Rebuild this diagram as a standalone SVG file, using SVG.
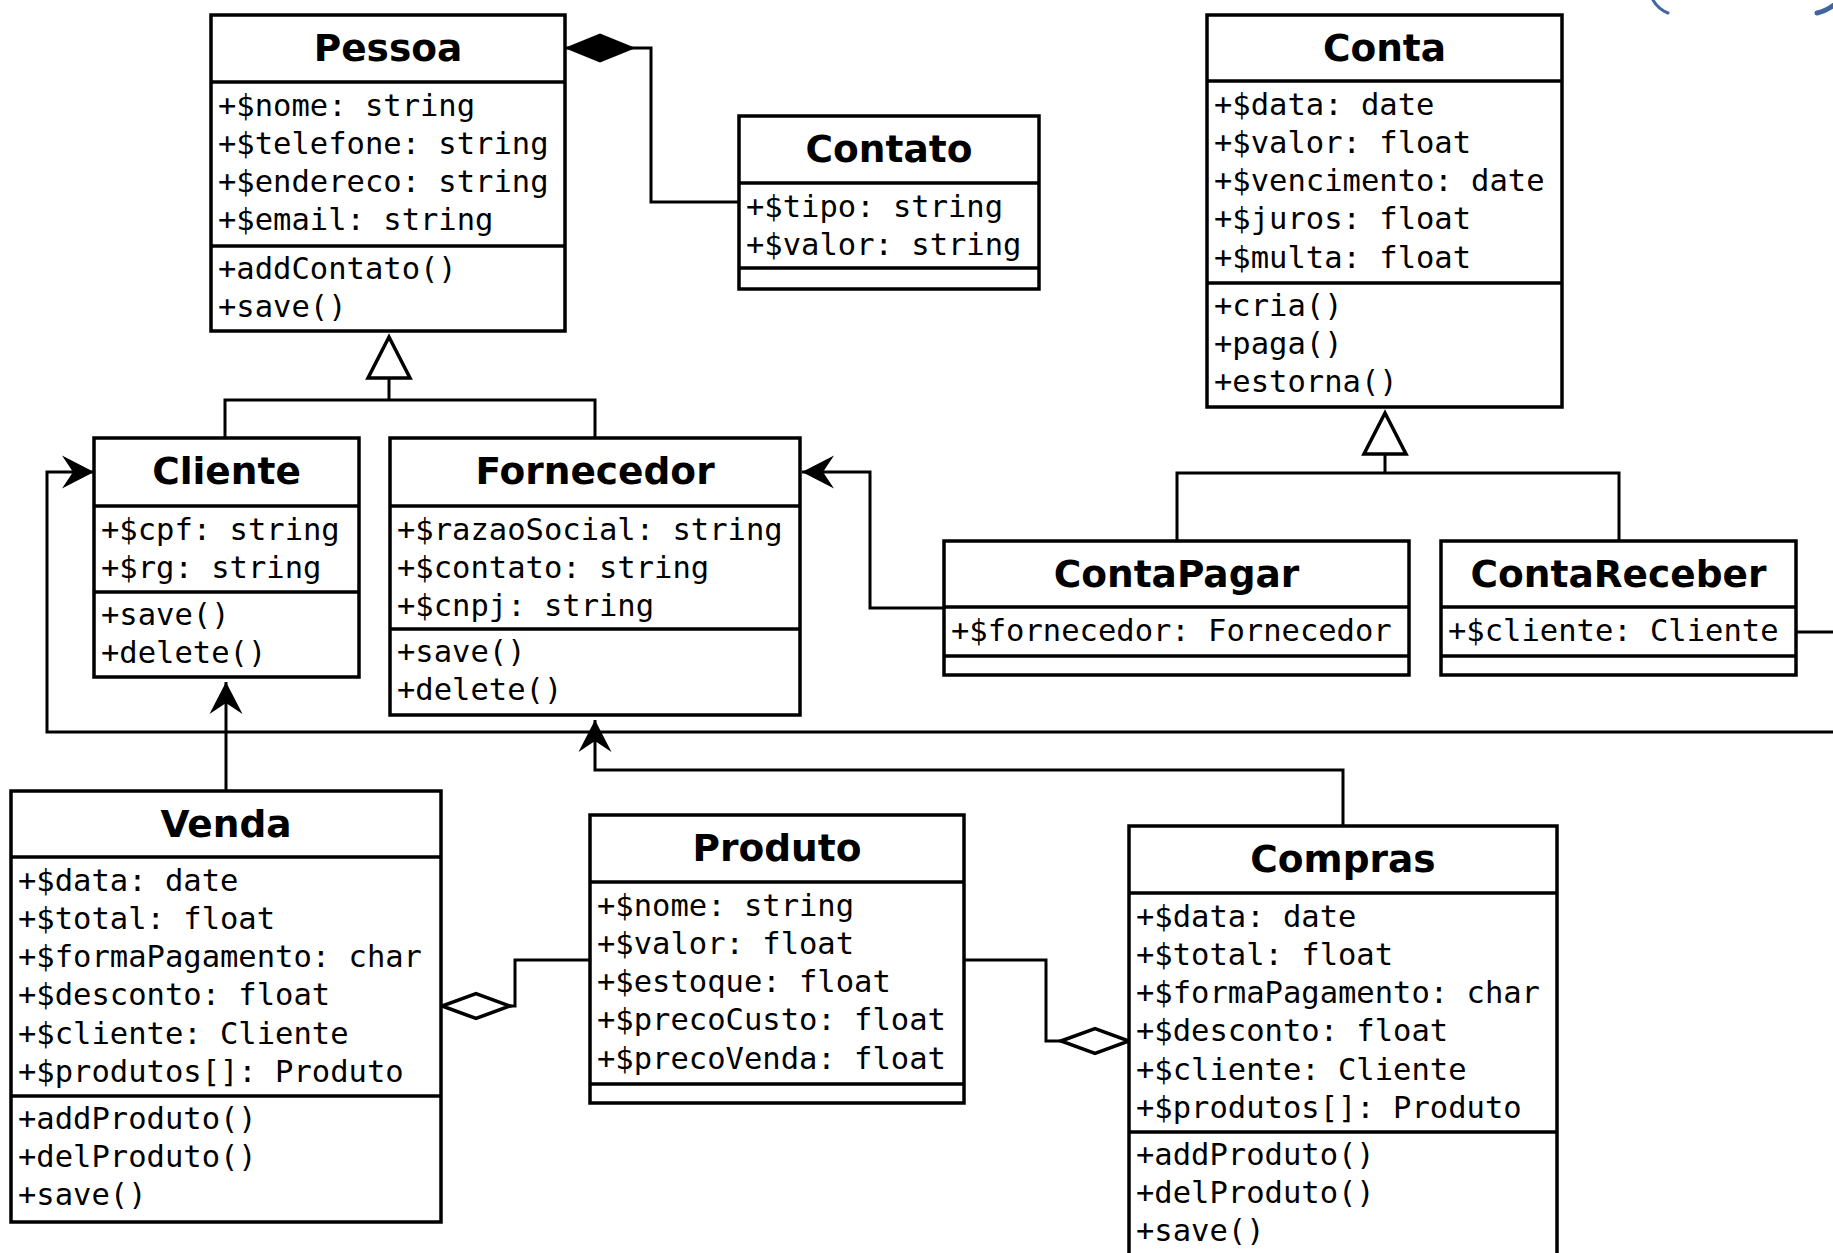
<svg xmlns="http://www.w3.org/2000/svg" width="1833" height="1253" viewBox="0 0 1833 1253">
  <style>
    .box { fill: #fff; stroke: #000; stroke-width: 3.5; }
    .div { stroke: #000; stroke-width: 3.5; }
    .title { font-family: "DejaVu Sans", "Liberation Sans", sans-serif; font-weight: bold; font-size: 37.5px; text-anchor: middle; fill: #000; }
    .m { font-family: "DejaVu Sans Mono", "Liberation Mono", monospace; font-size: 30.5px; fill: #000; }
    .edge { fill: none; stroke: #000; stroke-width: 3; }
    .logo { fill: none; stroke: #41659e; stroke-linecap: round; }
  </style>
  <defs>
    <!-- filled notched arrow for navigable associations -->
    <marker id="arrow" markerUnits="userSpaceOnUse" markerWidth="36" markerHeight="36" viewBox="0 0 36 36" refX="34" refY="18" orient="auto" overflow="visible">
      <path d="M34,18 L2,1.5 L13,18 L2,34.5 Z" fill="#000"/>
    </marker>
    <!-- hollow triangle for generalization -->
    <marker id="tri" markerUnits="userSpaceOnUse" markerWidth="46" markerHeight="46" viewBox="0 0 46 46" refX="44" refY="23" orient="auto" overflow="visible">
      <path d="M44,23 L3,2 L3,44 Z" fill="#fff" stroke="#000" stroke-width="3.5"/>
    </marker>
    <!-- hollow diamond for aggregation -->
    <marker id="dia" markerUnits="userSpaceOnUse" markerWidth="72" markerHeight="30" viewBox="0 0 72 30" refX="70" refY="15" orient="auto" overflow="visible">
      <path d="M2,15 L36,2.5 L70,15 L36,27.5 Z" fill="#fff" stroke="#000" stroke-width="3.5"/>
    </marker>
    <!-- filled diamond for composition -->
    <marker id="diaf" markerUnits="userSpaceOnUse" markerWidth="72" markerHeight="30" viewBox="0 0 72 30" refX="70" refY="15" orient="auto" overflow="visible">
      <path d="M2,15 L35,1.5 L68,15 L35,28.5 Z" fill="#000" stroke="#000" stroke-width="2"/>
    </marker>
  </defs>

  <rect x="0" y="0" width="1833" height="1253" fill="#fff"/>

  <!-- partial logo strokes at the top edge -->
  <path class="logo" d="M1653,0 Q1658,9 1668,13" stroke-width="3"/>
  <path class="logo" d="M1817,13 Q1826,11 1834,5" stroke-width="5"/>

  <g id="connectors">
    <!-- Contato composes Pessoa -->
    <path class="edge" d="M739,202 H651 V48 H565" marker-end="url(#diaf)"/>
    <!-- Cliente / Fornecedor extend Pessoa -->
    <path class="edge" d="M225,438 V400 H595 V438"/>
    <path class="edge" d="M389,400 V337" marker-end="url(#tri)"/>
    <!-- ContaPagar / ContaReceber extend Conta -->
    <path class="edge" d="M1177,541 V473 H1619 V541"/>
    <path class="edge" d="M1385,473 V413" marker-end="url(#tri)"/>
    <!-- ContaPagar -> Fornecedor -->
    <path class="edge" d="M944,608 H870 V472 H802" marker-end="url(#arrow)"/>
    <!-- ContaReceber -> Cliente -->
    <path class="edge" d="M1796,632 H1850 V732 H47 V472 H94" marker-end="url(#arrow)"/>
    <!-- Venda -> Cliente -->
    <path class="edge" d="M226,791 V682" marker-end="url(#arrow)"/>
    <!-- Compras -> Fornecedor -->
    <path class="edge" d="M1343,826 V770 H595 V720" marker-end="url(#arrow)"/>
    <!-- Produto aggregated by Venda -->
    <path class="edge" d="M590,960 H515 V1006 H442" marker-end="url(#dia)"/>
    <!-- Produto aggregated by Compras -->
    <path class="edge" d="M964,960 H1046 V1041 H1129" marker-end="url(#dia)"/>
  </g>

  <g id="pessoa">
    <rect class="box" x="211" y="15" width="354" height="316"/>
    <line class="div" x1="211" y1="82" x2="565" y2="82"/>
    <line class="div" x1="211" y1="246" x2="565" y2="246"/>
    <text class="title" x="388" y="61">Pessoa</text>
    <text class="m" x="218" y="115.5">+$nome: string</text>
    <text class="m" x="218" y="153.8">+$telefone: string</text>
    <text class="m" x="218" y="192.1">+$endereco: string</text>
    <text class="m" x="218" y="230.4">+$email: string</text>
    <text class="m" x="218" y="278.6">+addContato()</text>
    <text class="m" x="218" y="316.9">+save()</text>
  </g>

  <g id="contato">
    <rect class="box" x="739" y="116" width="300" height="173"/>
    <line class="div" x1="739" y1="183" x2="1039" y2="183"/>
    <line class="div" x1="739" y1="268" x2="1039" y2="268"/>
    <text class="title" x="889" y="162">Contato</text>
    <text class="m" x="746" y="216.5">+$tipo: string</text>
    <text class="m" x="746" y="254.8">+$valor: string</text>
  </g>

  <g id="conta">
    <rect class="box" x="1207" y="15" width="355" height="392"/>
    <line class="div" x1="1207" y1="81" x2="1562" y2="81"/>
    <line class="div" x1="1207" y1="283" x2="1562" y2="283"/>
    <text class="title" x="1384.5" y="61">Conta</text>
    <text class="m" x="1214" y="114.5">+$data: date</text>
    <text class="m" x="1214" y="152.8">+$valor: float</text>
    <text class="m" x="1214" y="191.1">+$vencimento: date</text>
    <text class="m" x="1214" y="229.4">+$juros: float</text>
    <text class="m" x="1214" y="267.7">+$multa: float</text>
    <text class="m" x="1214" y="315.6">+cria()</text>
    <text class="m" x="1214" y="353.9">+paga()</text>
    <text class="m" x="1214" y="392.2">+estorna()</text>
  </g>

  <g id="cliente">
    <rect class="box" x="94" y="438" width="265" height="239"/>
    <line class="div" x1="94" y1="506" x2="359" y2="506"/>
    <line class="div" x1="94" y1="592" x2="359" y2="592"/>
    <text class="title" x="226.5" y="484">Cliente</text>
    <text class="m" x="101" y="539.5">+$cpf: string</text>
    <text class="m" x="101" y="577.8">+$rg: string</text>
    <text class="m" x="101" y="624.6">+save()</text>
    <text class="m" x="101" y="662.9">+delete()</text>
  </g>

  <g id="fornecedor">
    <rect class="box" x="390" y="438" width="410" height="277"/>
    <line class="div" x1="390" y1="506" x2="800" y2="506"/>
    <line class="div" x1="390" y1="629" x2="800" y2="629"/>
    <text class="title" x="595" y="484">Fornecedor</text>
    <text class="m" x="397" y="539.5">+$razaoSocial: string</text>
    <text class="m" x="397" y="577.8">+$contato: string</text>
    <text class="m" x="397" y="616.1">+$cnpj: string</text>
    <text class="m" x="397" y="661.6">+save()</text>
    <text class="m" x="397" y="699.9">+delete()</text>
  </g>

  <g id="contapagar">
    <rect class="box" x="944" y="541" width="465" height="134"/>
    <line class="div" x1="944" y1="607" x2="1409" y2="607"/>
    <line class="div" x1="944" y1="656" x2="1409" y2="656"/>
    <text class="title" x="1176.5" y="587">ContaPagar</text>
    <text class="m" x="951" y="640.5">+$fornecedor: Fornecedor</text>
  </g>

  <g id="contareceber">
    <rect class="box" x="1441" y="541" width="355" height="134"/>
    <line class="div" x1="1441" y1="607" x2="1796" y2="607"/>
    <line class="div" x1="1441" y1="656" x2="1796" y2="656"/>
    <text class="title" x="1618.5" y="587">ContaReceber</text>
    <text class="m" x="1448" y="640.5">+$cliente: Cliente</text>
  </g>

  <g id="venda">
    <rect class="box" x="11" y="791" width="430" height="431"/>
    <line class="div" x1="11" y1="857" x2="441" y2="857"/>
    <line class="div" x1="11" y1="1096" x2="441" y2="1096"/>
    <text class="title" x="226" y="837">Venda</text>
    <text class="m" x="18" y="890.5">+$data: date</text>
    <text class="m" x="18" y="928.8">+$total: float</text>
    <text class="m" x="18" y="967.1">+$formaPagamento: char</text>
    <text class="m" x="18" y="1005.4">+$desconto: float</text>
    <text class="m" x="18" y="1043.7">+$cliente: Cliente</text>
    <text class="m" x="18" y="1082">+$produtos[]: Produto</text>
    <text class="m" x="18" y="1128.6">+addProduto()</text>
    <text class="m" x="18" y="1166.9">+delProduto()</text>
    <text class="m" x="18" y="1205.2">+save()</text>
  </g>

  <g id="produto">
    <rect class="box" x="590" y="815" width="374" height="288"/>
    <line class="div" x1="590" y1="882" x2="964" y2="882"/>
    <line class="div" x1="590" y1="1084" x2="964" y2="1084"/>
    <text class="title" x="777" y="861">Produto</text>
    <text class="m" x="597" y="915.5">+$nome: string</text>
    <text class="m" x="597" y="953.8">+$valor: float</text>
    <text class="m" x="597" y="992.1">+$estoque: float</text>
    <text class="m" x="597" y="1030.4">+$precoCusto: float</text>
    <text class="m" x="597" y="1068.7">+$precoVenda: float</text>
  </g>

  <g id="compras">
    <rect class="box" x="1129" y="826" width="428" height="432"/>
    <line class="div" x1="1129" y1="893" x2="1557" y2="893"/>
    <line class="div" x1="1129" y1="1132" x2="1557" y2="1132"/>
    <text class="title" x="1343" y="872">Compras</text>
    <text class="m" x="1136" y="926.5">+$data: date</text>
    <text class="m" x="1136" y="964.8">+$total: float</text>
    <text class="m" x="1136" y="1003.1">+$formaPagamento: char</text>
    <text class="m" x="1136" y="1041.4">+$desconto: float</text>
    <text class="m" x="1136" y="1079.7">+$cliente: Cliente</text>
    <text class="m" x="1136" y="1118">+$produtos[]: Produto</text>
    <text class="m" x="1136" y="1164.6">+addProduto()</text>
    <text class="m" x="1136" y="1202.9">+delProduto()</text>
    <text class="m" x="1136" y="1241.2">+save()</text>
  </g>
</svg>
